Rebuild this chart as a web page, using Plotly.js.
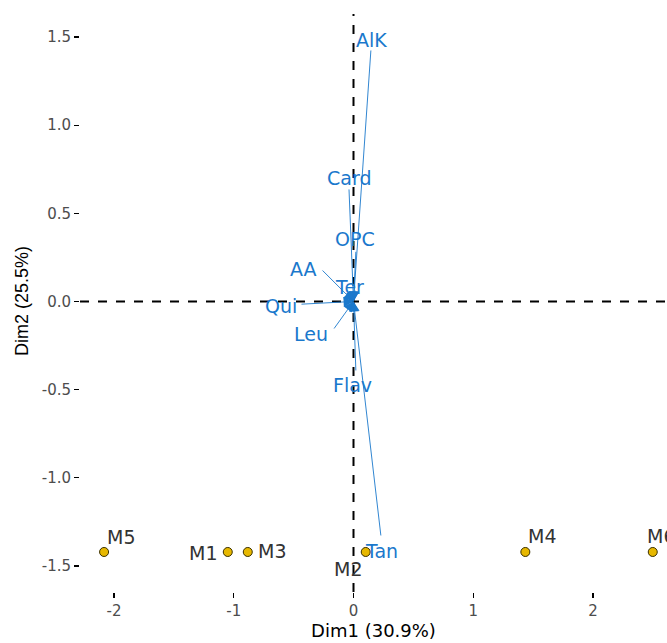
<!DOCTYPE html>
<html>
<head>
<meta charset="utf-8">
<script src="https://cdn.plot.ly/plotly-3.0.1.min.js"></script>
<style>html,body{margin:0;padding:0;background:#fff;}#chart{width:667px;height:643px;}</style>
</head>
<body>
<div id="chart"></div>
<script>
// Individuals (samples)
var indNames = ["M1", "M2", "M3", "M4", "M5", "M6"];
var indX = [-1.050, 0.102, -0.883, 1.435, -2.083, 2.499];
var indY = [-1.421, -1.421, -1.421, -1.421, -1.421, -1.421];

// Variables (loadings)
var varNames = ["AlK", "Card", "OPC", "AA", "Ter", "Qui", "Leu", "Flav", "Tan"];
var varX = [0.146, -0.038, 0.020, -0.271, -0.020, -0.447, -0.171, 0.020, 0.230];
var varY = [1.432, 0.644, 0.290, 0.184, 0.050, -0.016, -0.162, -0.400, -1.336];

// Axis ticks
var xTicks = [-2, -1, 0, 1, 2];
var yTicks = [-1.5, -1.0, -0.5, 0.0, 0.5, 1.0, 1.5];
var yTickText = ["-1.5", "-1.0", "-0.5", "0.0", "0.5", "1.0", "1.5"];

// label offsets in pixels (repel-like placement)
var indLabelDX = [-25, -18, 24, 17, 17, 8];
var indLabelDY = [-1, -17, 1, 16, 15, 16];
var varLabelDX = [1, 0, -1, -18, -2, -19, -22, -3, 0];
var varLabelDY = [9, 10, 11, 0, 6, -2, -4, -13, -14];

var BLUE = "#1A78CC";
var LABEL_FONT = "DejaVu Sans, Verdana, sans-serif";
var annotations = [];
for (var i = 0; i < varNames.length; i++) {
  annotations.push({
    x: 0, y: 0, ax: varX[i], ay: varY[i], axref: "x", ayref: "y",
    xref: "x", yref: "y", text: "", showarrow: true,
    arrowhead: 2, arrowsize: 2.2, arrowwidth: 0.9, arrowcolor: BLUE, standoff: 0
  });
}
for (var i = 0; i < varNames.length; i++) {
  annotations.push({
    x: varX[i], y: varY[i], xref: "x", yref: "y", text: varNames[i], showarrow: false,
    xshift: varLabelDX[i], yshift: varLabelDY[i], xanchor: "center", yanchor: "middle",
    font: {family: LABEL_FONT, size: 19, color: BLUE}
  });
}
for (var i = 0; i < indNames.length; i++) {
  annotations.push({
    x: indX[i], y: indY[i], xref: "x", yref: "y", text: indNames[i], showarrow: false,
    xshift: indLabelDX[i], yshift: indLabelDY[i], xanchor: "center", yanchor: "middle",
    font: {family: LABEL_FONT, size: 19, color: "#333333"}
  });
}

var traces = [{
  type: "scatter", mode: "markers", x: indX, y: indY, text: indNames,
  marker: {size: 9, color: "#E7B800", line: {color: "#3a3000", width: 1}},
  hoverinfo: "text", cliponaxis: false
}];

var layout = {
  width: 667, height: 643,
  margin: {l: 80, r: 0, t: 10, b: 51},
  paper_bgcolor: "#ffffff", plot_bgcolor: "#ffffff",
  showlegend: false,
  font: {family: LABEL_FONT},
  xaxis: {
    range: [-2.284, 2.618], tickvals: xTicks, ticktext: xTicks.map(String),
    showgrid: false, zeroline: false, showline: false,
    ticks: "outside", ticklen: 5, tickwidth: 1.2, tickcolor: "#000",
    tickfont: {family: LABEL_FONT, size: 15, color: "#4D4D4D"},
    title: {text: "Dim1 (30.9%)", font: {family: LABEL_FONT, size: 18, color: "#000"}, standoff: 5}
  },
  yaxis: {
    range: [-1.648, 1.653], tickvals: yTicks, ticktext: yTickText,
    showgrid: false, zeroline: false, showline: false,
    ticks: "outside", ticklen: 5, tickwidth: 1.2, tickcolor: "#000",
    tickfont: {family: LABEL_FONT, size: 15, color: "#4D4D4D"},
    title: {text: "Dim2 (25.5%)", font: {family: "Liberation Sans, Arial, sans-serif", size: 18, color: "#000"}, standoff: 8}
  },
  shapes: [
    {type: "line", xref: "paper", yref: "y", x0: 0, x1: 1, y0: 0, y1: 0,
     line: {color: "#000", width: 2, dash: "dash"}, layer: "below"},
    {type: "line", xref: "x", yref: "paper", x0: 0, x1: 0, y0: 0, y1: 0.993,
     line: {color: "#000", width: 2, dash: "dash"}, layer: "below"}
  ],
  annotations: annotations
};

Plotly.newPlot("chart", traces, layout, {displayModeBar: false, staticPlot: true});
</script>
</body>
</html>
